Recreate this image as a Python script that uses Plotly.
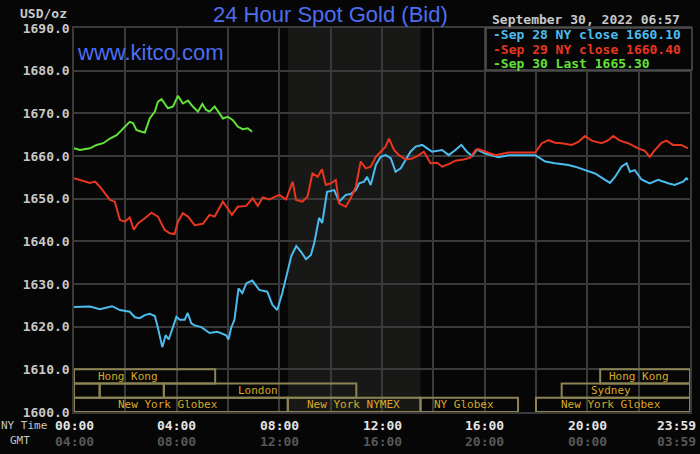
import plotly.graph_objects as go

# --- data (hours in NY time, price USD/oz) ---
sep28_hours = [0.0, 0.62, 1.01, 1.48, 1.79, 2.17, 2.37, 2.56, 2.76, 2.95, 3.15, 3.26, 3.44, 3.57, 3.69,
               3.99, 4.12, 4.31, 4.43, 4.57, 4.70, 4.96, 5.28, 5.59, 5.93, 6.02, 6.12, 6.25, 6.41, 6.56,
               6.72, 6.95, 7.22, 7.53, 7.73, 7.92, 8.12, 8.31, 8.47, 8.66, 8.84, 9.04, 9.23, 9.36, 9.55,
               9.67, 9.86, 10.14, 10.33, 10.59, 10.78, 10.98, 11.11, 11.30, 11.42, 11.56, 11.76, 11.95,
               12.14, 12.34, 12.53, 12.73, 12.92, 13.11, 13.31, 13.57, 13.76, 13.95, 14.34, 14.60, 14.86,
               15.09, 15.31, 15.51, 15.70, 16.03, 16.54, 16.93, 17.97, 18.36, 18.74, 19.26, 19.52, 19.91,
               20.30, 20.69, 20.88, 21.08, 21.33, 21.53, 21.66, 21.85, 22.11, 22.43, 22.76, 23.15, 23.40,
               23.73, 23.86, 23.92]
sep28_price = [1624.6, 1624.7, 1624.1, 1624.8, 1623.9, 1623.5, 1622.2, 1622.0, 1622.7, 1623.0, 1622.5,
               1620.0, 1615.2, 1618.0, 1617.0, 1622.3, 1621.6, 1621.6, 1623.2, 1620.8, 1620.3, 1619.9,
               1618.5, 1618.8, 1618.0, 1617.0, 1619.7, 1621.6, 1629.0, 1627.9, 1630.2, 1630.8, 1628.6,
               1628.2, 1625.1, 1623.9, 1628.0, 1632.5, 1636.6, 1638.9, 1637.6, 1635.8, 1636.8, 1639.6,
               1645.5, 1644.3, 1651.6, 1652.0, 1649.3, 1650.9, 1651.1, 1652.0, 1653.6, 1654.0, 1655.1,
               1653.2, 1657.9, 1659.8, 1660.2, 1659.5, 1656.3, 1657.1, 1659.1, 1661.0, 1662.2, 1662.6,
               1661.8, 1661.0, 1661.4, 1660.2, 1661.4, 1662.6, 1661.0, 1660.0, 1661.5, 1660.6, 1659.7,
               1660.2, 1660.2, 1658.7, 1658.3, 1657.9, 1657.5, 1656.7, 1655.9, 1654.4, 1653.7, 1655.1,
               1657.5, 1658.3, 1656.3, 1656.7, 1654.5, 1653.6, 1654.4, 1653.6, 1653.2, 1654.0, 1654.8,
               1654.4]

sep29_hours = [0.0, 0.23, 0.62, 0.82, 1.01, 1.20, 1.40, 1.59, 1.79, 1.98, 2.17, 2.33, 2.49, 2.76, 3.02,
               3.27, 3.53, 3.73, 3.92, 4.05, 4.24, 4.44, 4.70, 5.02, 5.28, 5.48, 5.80, 5.99, 6.15, 6.38,
               6.71, 6.96, 7.16, 7.35, 7.61, 8.00, 8.26, 8.52, 8.65, 8.90, 9.10, 9.29, 9.49, 9.66, 9.81,
               10.01, 10.20, 10.33, 10.59, 10.78, 10.98, 11.17, 11.37, 11.56, 11.76, 11.95, 12.14, 12.27,
               12.47, 12.66, 12.92, 13.18, 13.44, 13.63, 13.89, 14.15, 14.34, 14.60, 14.86, 15.18, 15.44,
               15.64, 15.77, 16.03, 16.42, 16.93, 17.97, 18.23, 18.49, 18.74, 19.00, 19.39, 19.65, 19.91,
               20.17, 20.56, 20.82, 21.01, 21.27, 21.59, 21.98, 22.24, 22.43, 22.63, 22.89, 23.08, 23.34,
               23.66, 23.92]
sep29_price = [1654.8, 1654.4, 1653.7, 1654.0, 1652.8, 1651.3, 1649.7, 1649.3, 1645.0, 1644.6, 1645.6,
               1642.7, 1644.2, 1645.4, 1646.7, 1645.8, 1642.7, 1641.9, 1641.7, 1644.6, 1646.6, 1645.8,
               1643.8, 1644.1, 1646.2, 1645.8, 1649.3, 1647.7, 1646.2, 1648.1, 1648.3, 1650.1, 1648.3,
               1650.3, 1649.8, 1650.9, 1649.8, 1654.0, 1649.7, 1649.3, 1650.5, 1655.9, 1655.1, 1656.9,
               1653.2, 1653.6, 1654.4, 1648.9, 1648.1, 1650.1, 1652.8, 1658.7, 1657.1, 1657.5, 1659.8,
               1661.0, 1662.2, 1664.1, 1661.4, 1660.2, 1659.2, 1659.4, 1660.2, 1661.0, 1658.3, 1658.4,
               1657.5, 1658.1, 1658.9, 1659.2, 1659.6, 1661.4, 1661.6, 1661.0, 1660.2, 1660.8, 1660.8,
               1663.0, 1663.7, 1663.1, 1663.0, 1662.6, 1663.3, 1664.7, 1663.6, 1663.0, 1663.7, 1664.7,
               1663.6, 1663.0, 1661.8, 1661.2, 1659.8, 1661.4, 1663.1, 1663.6, 1662.6, 1662.6, 1661.8]

sep30_hours = [0.0, 0.23, 0.62, 0.88, 1.14, 1.40, 1.66, 1.91, 2.17, 2.30, 2.43, 2.63, 2.76, 2.95, 3.15,
               3.27, 3.41, 3.53, 3.66, 3.86, 4.05, 4.24, 4.44, 4.63, 4.83, 5.00, 5.15, 5.28, 5.48, 5.67,
               5.80, 5.99, 6.19, 6.38, 6.57, 6.77, 6.94]
sep30_price = [1661.8, 1661.4, 1661.8, 1662.6, 1663.0, 1664.1, 1664.9, 1666.5, 1668.0, 1667.7, 1666.1,
               1665.7, 1665.5, 1668.8, 1670.4, 1672.7, 1673.3, 1672.3, 1671.2, 1671.6, 1674.1, 1672.3,
               1673.0, 1671.6, 1670.4, 1672.2, 1670.8, 1670.4, 1671.6, 1670.0, 1668.8, 1669.2, 1668.4,
               1666.9, 1666.3, 1666.5, 1665.7]

legend_labels = ["Sep 28 NY close 1660.10", "Sep 29 NY close 1660.40", "Sep 30 Last 1665.30"]

tick_hours = [0, 4, 8, 12, 16, 20, 24]
ny_ticks = ["00:00", "04:00", "08:00", "12:00", "16:00", "20:00", "23:59"]
gmt_ticks = ["04:00", "08:00", "12:00", "16:00", "20:00", "00:00", "03:59"]

# trading sessions: name, row (0 = top), start hour, end hour, label hour
sessions = [
    ("Hong Kong", 0, 0.0, 5.5, 2.1),
    ("", 1, 0.0, 1.0, None),
    ("", 1, 1.0, 3.5, None),
    ("London", 1, 3.5, 11.0, 7.15),
    ("New York Globex", 2, 0.0, 8.33, 3.65),
    ("New York NYMEX", 2, 8.33, 13.5, 10.9),
    ("NY Globex", 2, 13.5, 17.3, 15.18),
    ("New York Globex", 2, 18.0, 24.0, 20.93),
    ("Sydney", 1, 19.0, 24.0, 20.93),
    ("Hong Kong", 0, 20.5, 24.0, 22.0),
]
nymex_open, nymex_close = 8.33, 13.5

date_text = "September 30, 2022 06:57"

BG = "#060606"
GRID = "#3a3a3a"
MONO = "DejaVu Sans Mono"
BLUE, RED, GREEN = "#4cbcef", "#e8361f", "#62e23a"


def px(x):
    return (x - 74) / 616


def py(y):
    return (412 - y) / 384


fig = go.Figure()

for hours, price, color in [(sep28_hours, sep28_price, BLUE),
                            (sep29_hours, sep29_price, RED),
                            (sep30_hours, sep30_price, GREEN)]:
    fig.add_trace(go.Scatter(x=hours, y=price, mode="lines",
                             line=dict(color=color, width=2), hoverinfo="skip"))

# NYMEX session shading
fig.add_shape(type="rect", xref="x", yref="paper", x0=nymex_open, x1=nymex_close, y0=0, y1=1,
              fillcolor="#181816", line_width=0, layer="below")

annotations = []

# session boxes
row_h = 10 / 3
for name, row, start, end, label_at in sessions:
    y1 = 1610 - row * row_h
    y0 = y1 - row_h
    fig.add_shape(type="rect", xref="x", yref="y", x0=start, x1=end, y0=y0, y1=y1,
                  line=dict(color="#8c8454", width=2), layer="above")
    if name:
        annotations.append(dict(x=label_at, y=(y0 + y1) / 2, xref="x", yref="y", text=name,
                                showarrow=False, font=dict(family=MONO, size=11, color="#d8aa24")))

# legend box
fig.add_shape(type="rect", xref="paper", yref="paper", x0=px(486), x1=px(692), y0=py(70), y1=py(28),
              fillcolor=BG, line=dict(color="#505050", width=1.5), layer="above")
for i, (label, color) in enumerate(zip(legend_labels, [BLUE, RED, GREEN])):
    annotations.append(dict(x=px(491), y=py(35 + 14 * i), xref="paper", yref="paper",
                            xanchor="left", yanchor="middle", text="-" + label, showarrow=False,
                            font=dict(family=MONO, size=13, color=color, weight="bold")))

# x tick labels (NY time and GMT rows)
for i, (h, ny, gmt) in enumerate(zip(tick_hours, ny_ticks, gmt_ticks)):
    last = i == len(tick_hours) - 1
    common = dict(x=h, xref="x", yref="paper", y=0, yanchor="middle", showarrow=False,
                  xanchor="right" if last else "center", xshift=8 if last else 0)
    annotations.append(dict(common, text=ny, yshift=-13,
                            font=dict(family=MONO, size=13, color="#e4e4e4", weight="bold")))
    annotations.append(dict(common, text=gmt, yshift=-29,
                            font=dict(family=MONO, size=13, color="#575757", weight="bold")))

annotations += [
    dict(x=px(49), y=py(425), xref="paper", yref="paper", xanchor="right", yanchor="middle",
         text="NY Time", showarrow=False, font=dict(family=MONO, size=11, color="#c4c4c4")),
    dict(x=px(32), y=py(440), xref="paper", yref="paper", xanchor="right", yanchor="middle",
         text="GMT", showarrow=False, font=dict(family=MONO, size=11, color="#c4c4c4")),
    dict(x=px(69), y=py(13), xref="paper", yref="paper", xanchor="right", yanchor="middle",
         text="USD/oz", showarrow=False, font=dict(family=MONO, size=13, color="#c8c8c8", weight="bold")),
    dict(x=px(330), y=py(15), xref="paper", yref="paper", xanchor="center", yanchor="middle",
         text="24 Hour Spot Gold (Bid)", showarrow=False,
         font=dict(family="Liberation Sans", size=22, color="#4d6ef0")),
    dict(x=px(75), y=py(52), xref="paper", yref="paper", xanchor="left", yanchor="middle",
         text="www.kitco.com", showarrow=False,
         font=dict(family="Liberation Sans", size=22, color="#4d6ef0")),
    dict(x=px(490), y=py(19), xref="paper", yref="paper", xanchor="left", yanchor="middle",
         text=date_text, showarrow=False, font=dict(family=MONO, size=13, color="#c8c8c8", weight="bold")),
]

fig.update_layout(
    width=700, height=454,
    margin=dict(l=74, r=10, t=28, b=42),
    paper_bgcolor=BG, plot_bgcolor=BG,
    showlegend=False,
    annotations=annotations,
)
fig.update_xaxes(range=[0, 24], dtick=2, showticklabels=False, showgrid=True, gridcolor=GRID,
                 gridwidth=1.5, zeroline=False, showline=True, mirror=True, linecolor=GRID,
                 linewidth=1.5, automargin=False, fixedrange=True)
fig.update_yaxes(range=[1600, 1690], dtick=10, tickformat=".1f", showgrid=True, gridcolor=GRID,
                 gridwidth=1.5, zeroline=False, showline=True, mirror=True, linecolor=GRID,
                 linewidth=1.5, ticks="", automargin=False, fixedrange=True,
                 tickfont=dict(family=MONO, size=13, color="#c8c8c8", weight="bold"))

# drop the default page margin so the 700x454 figure fills the window exactly
fig.write_html("out.html", config={"displayModeBar": False},
               post_script="document.body.style.margin='0';document.body.style.background='#060606';")
